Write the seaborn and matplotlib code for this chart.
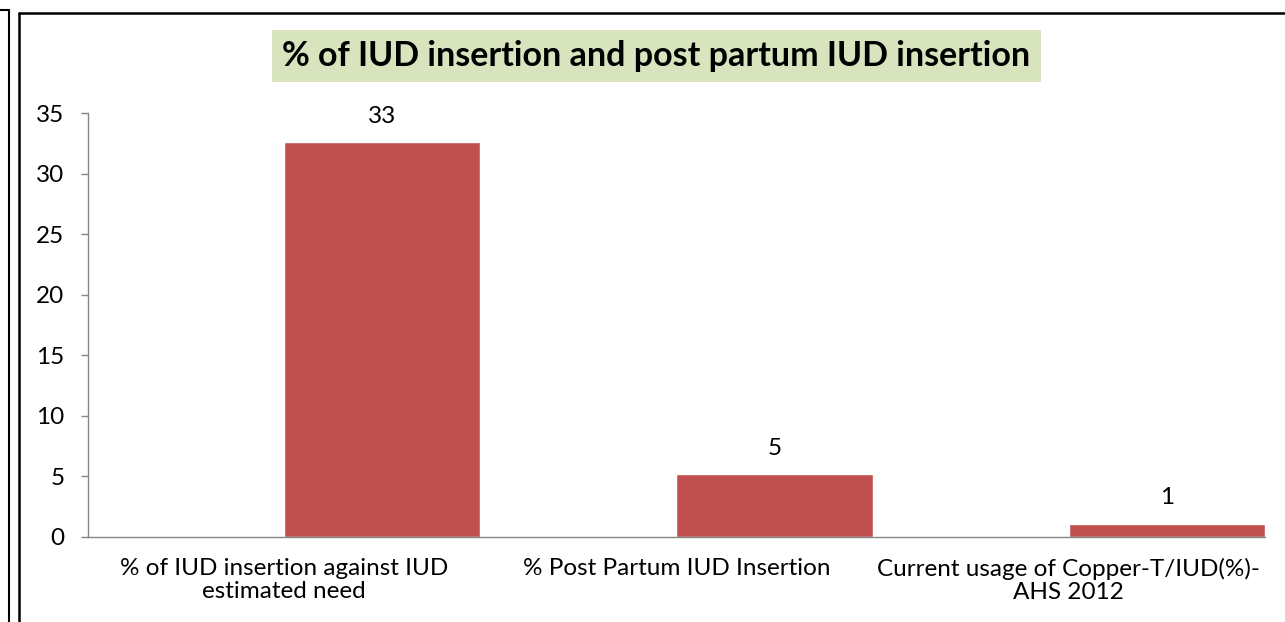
import matplotlib
matplotlib.use("Agg")
import matplotlib.pyplot as plt
import seaborn as sns
import pandas as pd
from matplotlib.lines import Line2D

# chart data
categories = ["% of IUD insertion against IUD\nestimated need",
              "% Post Partum IUD Insertion",
              "Current usage of Copper-T/IUD(%)-\nAHS 2012"]
values = [32.6, 5.2, 1.1]
value_labels = ["33", "5", "1"]
y_ticks = [0, 5, 10, 15, 20, 25, 30, 35]
title = "% of IUD insertion and post partum IUD insertion"

sns.set_theme(style="white")
plt.rcParams['font.family'] = ['Lato', 'DejaVu Sans']

fig = plt.figure(figsize=(12.85, 6.22), dpi=100)
ax = fig.add_axes([0.0685, 0.1367, 0.9159, 0.6816])

df = pd.DataFrame({"cat": categories, "val": values})
sns.barplot(data=df, x="cat", y="val", color="#C0504D", saturation=1,
            width=0.5, ax=ax)

# bars sit on the right half of each category slot
for p in ax.patches:
    p.set_x(p.get_x() + 0.25)

for p, lab in zip(ax.patches, value_labels):
    ax.annotate(lab, (p.get_x() + p.get_width() / 2, p.get_height()),
                xytext=(0, 11), textcoords="offset points",
                ha="center", va="bottom", fontsize=17.5, color="#000000")

ax.set_xlim(-0.5, 2.5)
ax.set_ylim(0, 35)
ax.set_yticks(y_ticks)
ax.set_xlabel("")
ax.set_ylabel("")
ax.tick_params(axis="y", length=5, width=1, color="#868686", labelsize=17.5,
               left=True, pad=12, labelcolor="#000000")
ax.tick_params(axis="x", length=0, labelsize=17.5, pad=15, labelcolor="#000000")
for t in ax.get_xticklabels():
    t.set_linespacing(1.12)
for s in ["top", "right"]:
    ax.spines[s].set_visible(False)
for s in ["left", "bottom"]:
    ax.spines[s].set_color("#868686")
    ax.spines[s].set_linewidth(1)

fig.text(0.5109, 0.91, title, ha="center", va="center", fontsize=24.5,
         fontweight="bold", color="#000000",
         bbox=dict(boxstyle="square,pad=0.3", facecolor="#D7E4BD", edgecolor="none"))

# chart frame lines
fig.add_artist(Line2D([19 / 1285, 19 / 1285], [0, 1 - 13 / 622], color="black", lw=1.8, transform=fig.transFigure))
fig.add_artist(Line2D([19 / 1285, 1], [1 - 13 / 622, 1 - 13 / 622], color="black", lw=1.8, transform=fig.transFigure))
fig.add_artist(Line2D([9 / 1285, 9 / 1285], [0, 1 - 10 / 622], color="black", lw=1.5, transform=fig.transFigure))
fig.add_artist(Line2D([0, 9 / 1285], [1 - 10 / 622, 1 - 10 / 622], color="black", lw=1.5, transform=fig.transFigure))

fig.savefig("out.png", dpi=100)
